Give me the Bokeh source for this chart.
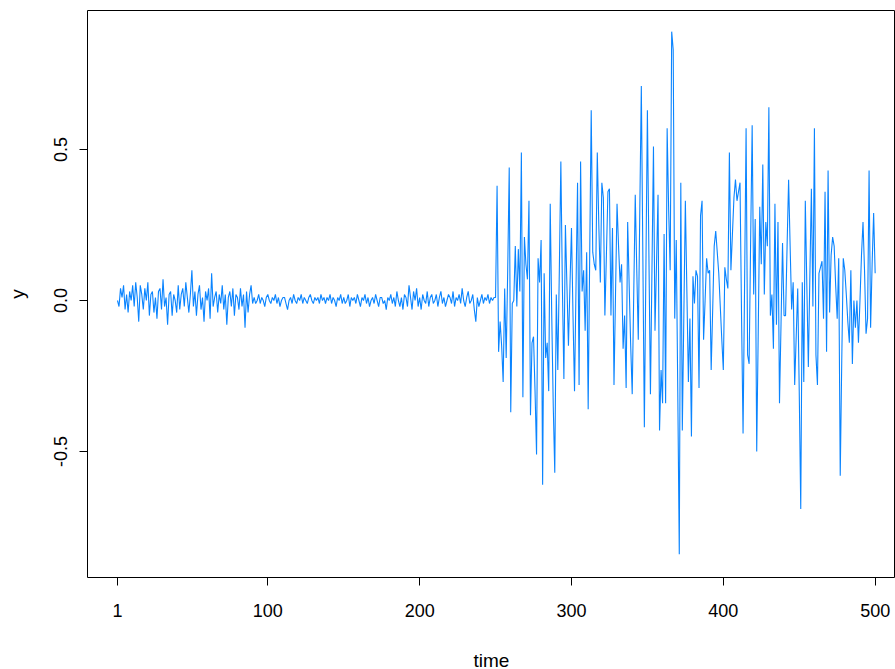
from bokeh.plotting import figure
from bokeh.embed import file_html
from bokeh.resources import INLINE
from bokeh.models import Range1d, FixedTicker, CustomJSTickFormatter

calm_a = [0.00,-0.02,0.04,0.01,0.05,-0.03,0.02,-0.04,0.03,0.00,
0.05,-0.02,0.06,0.01,-0.07,0.05,0.02,-0.03,0.04,0.00,
0.06,-0.05,0.02,0.03,-0.04,0.01,-0.06,0.03,0.04,-0.03,
0.07,-0.02,0.01,-0.08,0.02,0.03,-0.05,0.02,0.00,-0.04,
0.05,-0.03,0.02,0.04,-0.02,0.06,0.01,-0.04,0.02,0.10,
-0.02,0.03,-0.05,0.02,0.05,-0.03,0.01,-0.07,0.03,0.00,
0.04,-0.06,0.09,-0.02,0.01,0.03,-0.04,0.02,-0.01,0.05,
-0.03,0.02,-0.08,0.01,0.03,-0.02,0.04,-0.05,0.02,0.01,
-0.03,0.04,-0.02,0.02,-0.09,0.03,-0.04,0.02,0.05,-0.01]
calm_b = [0.01,-0.01,0.00,0.02,-0.01,0.01,0.00,-0.02,0.01,0.02,
0.00,-0.01,0.01,0.00,0.02,-0.01,0.01,-0.02,0.00,0.01,
0.01,-0.01,-0.03,0.00,0.01,-0.01,0.02,0.00,-0.01,0.01,
0.00,0.02,-0.01,0.01,0.00,-0.01,0.01,0.02,0.00,-0.01,
0.01,0.00,0.01,-0.01,0.02,0.00,0.01,-0.01,0.01,0.00,
0.02,-0.01,0.01,0.00,-0.02,0.01,0.00,0.02,-0.01,0.01,
-0.01,0.00,0.02,-0.02,0.01,0.00,0.01,-0.01,0.02,0.00,
-0.02,0.01,0.00,0.02,-0.01,0.01,-0.02,0.00,0.01,-0.01,
0.02,0.00,-0.02,0.01,0.01,-0.01,0.00,-0.03,0.01,0.00,
0.02,-0.01,0.01,-0.02,0.03,0.00,-0.02,0.01,-0.03,0.02]
calm_c = [0.01,-0.02,0.05,0.01,-0.03,0.03,0.00,0.04,-0.02,0.01,
-0.03,0.02,0.00,-0.01,0.03,-0.02,0.01,0.02,-0.01,0.00,
0.02,-0.02,0.01,0.03,-0.01,0.01,-0.02,0.00,0.02,0.01,
-0.01,0.03,-0.02,0.01,0.00,0.02,-0.01,0.04,0.00,-0.02,
0.01,0.03,-0.01,0.00,0.02,-0.03,-0.07,0.01,-0.02,0.00,
0.02,-0.01,0.01,0.00,0.02,-0.01,0.01,0.00,0.01,0.01]
wild_a = [0.38,-0.17,-0.07,-0.15,-0.27,0.04,-0.19,0.10,0.44,-0.37,-0.01,0.00,0.18,-0.02,0.17,0.03,
0.49,-0.32,0.21,0.12,0.07,0.33,-0.38,-0.14,-0.12,-0.30,-0.51,0.14,0.06,0.20,-0.61,0.09,-0.19,-0.14,
-0.30,0.32,-0.05,-0.35,-0.57,0.02,-0.23,0.10,0.46,0.05,-0.26,0.25,0.05,-0.15,0.05,0.24,-0.05,-0.30,
0.05,0.39,-0.28,0.46,0.03,0.10,-0.10,0.16,-0.36,0.15,0.63,0.16,0.12,0.10,0.49,0.25,0.06,0.39,0.34,
-0.05,0.15,0.36,0.37,-0.05,0.24,-0.28,0.02,0.32,0.18,0.06,0.12,-0.16,-0.05,-0.29,0.26,0.05,-0.15,
-0.31,0.02,0.35,0.10,-0.13,0.30,0.71,0.15,-0.42,0.10,0.63,0.15,-0.31,0.10,0.51,-0.10,0.12,0.35,
-0.43,-0.23,-0.34,0.22,-0.34,0.57,0.30,0.10,0.89,0.83,-0.06,0.20,-0.30,-0.84,0.39,-0.43,-0.05,0.33,
0.03,-0.27,-0.06]
wild_b = [-0.45,0.08,-0.01,0.10,0.08,-0.29,0.28,0.33,-0.13,0.00,0.14,0.09,0.10,-0.23,-0.03,0.18,0.23,
0.16,0.09,-0.02,-0.13,-0.23,0.11,0.07,0.04,0.49,0.10,0.22,0.34,0.40,0.33,0.36,0.39,-0.05,-0.44,0.05,
0.57,-0.18,-0.21,0.20,0.58,0.02,0.27,-0.50,-0.10,0.31,0.12,0.45,0.02,0.26,0.18,0.64,-0.05,0.02,-0.16,
0.32,-0.08,0.26,-0.34,-0.08,0.19,-0.05,-0.05,0.18,0.40,0.18,-0.03,0.06,-0.28,-0.12,0.04,-0.30,-0.69,
0.06,-0.27,0.33,0.05,-0.22,0.08,0.37,-0.02,0.57,-0.18,-0.28,0.09,0.11,0.13,-0.06,0.36,-0.17,0.43,
-0.04,0.15,0.21,0.18,0.05,-0.06,0.14,-0.58,-0.20,0.14,0.10,0.02,-0.07,-0.14,0.10,-0.21,0.00,-0.09,
0.00,-0.14,0.00,0.15,0.26,0.10,-0.11,-0.06,0.43,-0.09,0.12,0.29,0.09]

y = calm_a + calm_b + calm_c + wild_a + wild_b
time = list(range(1, len(y) + 1))
x_ticks = [1, 100, 200, 300, 400, 500]
y_ticks = [-0.5, 0.0, 0.5]

p = figure(frame_width=808, frame_height=567, output_backend="svg", toolbar_location=None,
           x_range=Range1d(-18.75, 513.4), y_range=Range1d(-0.917, 0.96),
           min_border_left=87, min_border_right=0, min_border_top=10, min_border_bottom=84)
p.background_fill_color = "white"
p.border_fill_color = "white"
p.outline_line_color = "black"
p.grid.visible = False

p.line(time, y, line_color="#0A84FF", line_width=1.1)

font = "Liberation Sans"
p.xaxis.ticker = FixedTicker(ticks=x_ticks)
p.xaxis.bounds = (1, 500)
p.yaxis.ticker = FixedTicker(ticks=y_ticks)
p.yaxis.bounds = (-0.5, 0.5)
p.yaxis.formatter = CustomJSTickFormatter(code="return tick.toFixed(1);")
p.xaxis.axis_label = "time"
p.yaxis.axis_label = "y"
p.yaxis.major_label_orientation = "vertical"
for ax in (p.xaxis, p.yaxis):
    ax.axis_label_text_font = font
    ax.major_label_text_font = font
    ax.axis_label_text_font_size = "19px"
    ax.major_label_text_font_size = "18px"
    ax.axis_label_text_font_style = "normal"
    ax.major_label_text_color = "black"
    ax.axis_label_text_color = "black"
    ax.major_tick_out = 8
    ax.major_tick_in = 0
    ax.minor_tick_out = 0
    ax.minor_tick_in = 0
    ax.axis_line_color = "black"
    ax.major_tick_line_color = "black"
p.xaxis.major_label_standoff = 18
p.xaxis.axis_label_standoff = 30
p.yaxis.major_label_standoff = 12
p.yaxis.axis_label_standoff = 24

open("out.html", "w").write(file_html(p, INLINE))
